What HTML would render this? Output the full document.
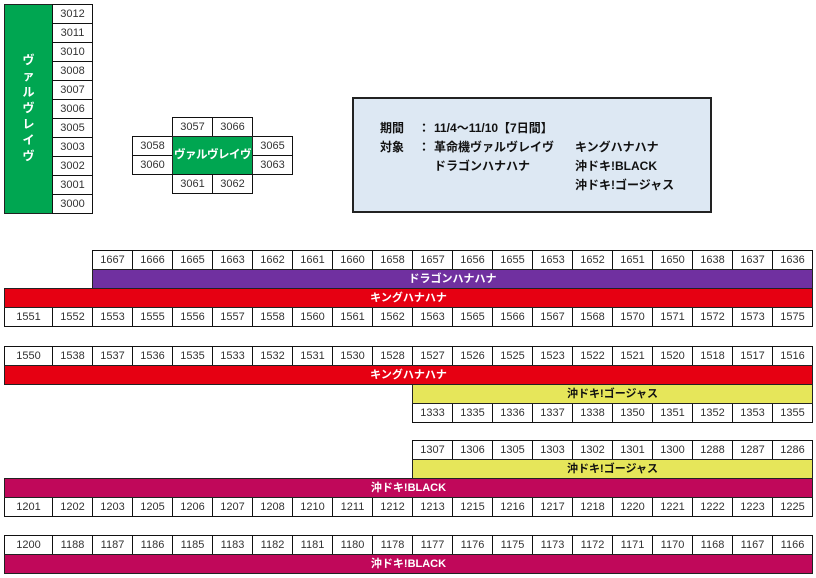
<!DOCTYPE html>
<html><head><meta charset="utf-8"><style>
body{margin:0;width:816px;height:578px;background:#fff;position:relative;overflow:hidden;font-family:"Liberation Sans","Noto Sans CJK JP",sans-serif;}
.c{position:absolute;box-sizing:border-box;border:1px solid #111;background:#fff;font-size:11px;color:#333;text-align:center;line-height:18px;height:20px;width:41px;}
.b{position:absolute;box-sizing:border-box;border:1px solid #222;height:20px;font-size:11px;font-weight:bold;color:#fff;text-align:center;line-height:18px;white-space:nowrap;overflow:hidden;}
.t{position:absolute;font-size:12px;font-weight:bold;color:#111;white-space:nowrap;line-height:14px;}
</style></head><body>
<div class="b" style="left:4px;top:4px;width:49px;height:210px;background:#00a651;font-size:12px;line-height:16px;padding-top:47px;white-space:normal;">ヴ<br>ァ<br>ル<br>ヴ<br>レ<br>イ<br>ヴ</div>
<div class="c" style="left:52px;top:4px">3012</div>
<div class="c" style="left:52px;top:23px">3011</div>
<div class="c" style="left:52px;top:42px">3010</div>
<div class="c" style="left:52px;top:61px">3008</div>
<div class="c" style="left:52px;top:80px">3007</div>
<div class="c" style="left:52px;top:99px">3006</div>
<div class="c" style="left:52px;top:118px">3005</div>
<div class="c" style="left:52px;top:137px">3003</div>
<div class="c" style="left:52px;top:156px">3002</div>
<div class="c" style="left:52px;top:175px">3001</div>
<div class="c" style="left:52px;top:194px">3000</div>

<div class="c" style="left:172px;top:117px">3057</div>
<div class="c" style="left:212px;top:117px">3066</div>
<div class="c" style="left:132px;top:136px">3058</div>
<div class="c" style="left:132px;top:155px">3060</div>
<div class="c" style="left:252px;top:136px">3065</div>
<div class="c" style="left:252px;top:155px">3063</div>
<div class="b" style="left:172px;top:136px;width:81px;height:39px;background:#00a651;font-size:11.5px;letter-spacing:-0.5px;line-height:37px;">ヴァルヴレイヴ</div>
<div class="c" style="left:172px;top:174px">3061</div>
<div class="c" style="left:212px;top:174px">3062</div>

<div style="position:absolute;left:352px;top:97px;width:356px;height:112px;border:2px solid #222;background:#dde8f3;"></div>
<div class="t" style="left:380px;top:121px">期間</div>
<div class="t" style="left:418px;top:121px">：</div>
<div class="t" style="left:434px;top:121px">11/4～11/10【7日間】</div>
<div class="t" style="left:380px;top:140px">対象</div>
<div class="t" style="left:418px;top:140px">：</div>
<div class="t" style="left:434px;top:140px">革命機ヴァルヴレイヴ</div>
<div class="t" style="left:434px;top:159px">ドラゴンハナハナ</div>
<div class="t" style="left:575px;top:140px">キングハナハナ</div>
<div class="t" style="left:575px;top:159px">沖ドキ!BLACK</div>
<div class="t" style="left:575px;top:178px">沖ドキ!ゴージャス</div>

<div id="rows"></div>
<div class="b" style="left:92px;top:269px;width:721px;background:#7030a0;">ドラゴンハナハナ</div>
<div class="b" style="left:4px;top:288px;width:809px;background:#e60012;">キングハナハナ</div>
<div class="b" style="left:4px;top:365px;width:809px;background:#e60012;">キングハナハナ</div>
<div class="b" style="left:412px;top:384px;width:401px;background:#e6e65a;color:#111;">沖ドキ!ゴージャス</div>
<div class="b" style="left:412px;top:459px;width:401px;background:#e6e65a;color:#111;">沖ドキ!ゴージャス</div>
<div class="b" style="left:4px;top:478px;width:809px;background:#c0085a;">沖ドキ!BLACK</div>
<div class="b" style="left:4px;top:554px;width:809px;background:#c0085a;">沖ドキ!BLACK</div>
<script>
function row(y,x0,first48,arr){var h='';var x=x0;arr.forEach(function(n,i){var w=(first48&&i==0)?49:41;h+='<div class="c" style="left:'+x+'px;top:'+y+'px;width:'+w+'px">'+n+'</div>';x+=w-1;});return h;}
var s='';
s+=row(250,92,false,[1667,1666,1665,1663,1662,1661,1660,1658,1657,1656,1655,1653,1652,1651,1650,1638,1637,1636]);
s+=row(307,4,true,[1551,1552,1553,1555,1556,1557,1558,1560,1561,1562,1563,1565,1566,1567,1568,1570,1571,1572,1573,1575]);
s+=row(346,4,true,[1550,1538,1537,1536,1535,1533,1532,1531,1530,1528,1527,1526,1525,1523,1522,1521,1520,1518,1517,1516]);
s+=row(403,412,false,[1333,1335,1336,1337,1338,1350,1351,1352,1353,1355]);
s+=row(440,412,false,[1307,1306,1305,1303,1302,1301,1300,1288,1287,1286]);
s+=row(497,4,true,[1201,1202,1203,1205,1206,1207,1208,1210,1211,1212,1213,1215,1216,1217,1218,1220,1221,1222,1223,1225]);
s+=row(535,4,true,[1200,1188,1187,1186,1185,1183,1182,1181,1180,1178,1177,1176,1175,1173,1172,1171,1170,1168,1167,1166]);
document.getElementById('rows').innerHTML=s;
</script>
</body></html>
